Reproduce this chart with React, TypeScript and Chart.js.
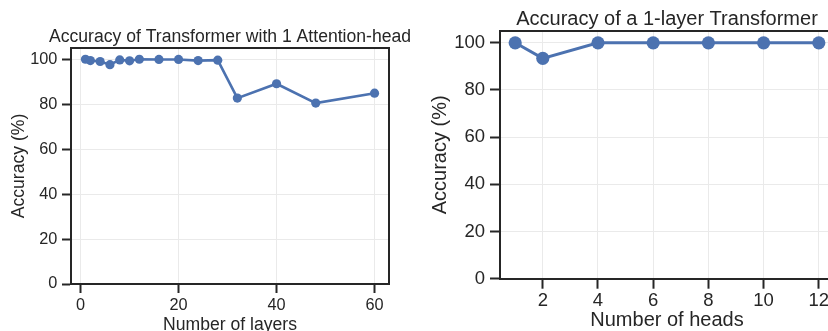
import React, { useEffect, useRef } from "react";
import { Chart, registerables } from "chart.js";

Chart.register(...registerables);

// ---- data ----
const LAYERS = [1, 2, 4, 6, 8, 10, 12, 16, 20, 24, 28, 32, 40, 48, 60];
const LAYER_ACCURACY = [100, 99.4, 99.0, 97.6, 99.7, 99.3, 100, 99.9, 99.9, 99.4, 99.6, 82.7, 89.1, 80.5, 84.9];
const HEADS = [1, 2, 4, 6, 8, 10, 12];
const HEAD_ACCURACY = [100, 93.4, 100, 100, 100, 100, 100];
const LAYER_TICKS = [0, 20, 40, 60];
const HEAD_TICKS = [2, 4, 6, 8, 10, 12];
const Y_TICKS = [0, 20, 40, 60, 80, 100];

const LEFT_TITLE = "Accuracy of Transformer with 1 Attention-head";
const RIGHT_TITLE = "Accuracy of a 1-layer Transformer";
const LEFT_XLABEL = "Number of layers";
const RIGHT_XLABEL = "Number of heads";
const YLABEL = "Accuracy (%)";

const INK = "#262626";
const BLUE = "#4C72B0";
const GRID = "#EAEAEA";
const FAMILY = "'Liberation Sans', Arial, Helvetica, sans-serif";

type P = {
  left: number; w: number; h: number;
  padRight: number; top: number; yw: number; xh: number;
  xs: number[]; ys: number[]; xticks: number[];
  xmin: number; xmax: number;
  r: number; lw: number;
  tickSize: number; labelSize: number; titleSize: number;
  tl: number; xpad: number; ypad: number; ytpad: number; xtpad: number;
  title: string; xlabel: string; titleGap: number;
};

const framePlugin = {
  id: "frame",
  afterDraw(chart: any) {
    const { ctx, chartArea: a } = chart;
    const t = Math.round(a.top);
    const r = Math.round(a.right);
    ctx.save();
    ctx.strokeStyle = INK;
    ctx.lineWidth = 2;
    ctx.lineCap = "square";
    ctx.beginPath();
    ctx.moveTo(Math.round(a.left), t);
    ctx.lineTo(r, t);
    ctx.lineTo(r, Math.round(a.bottom));
    ctx.stroke();
    ctx.restore();
  },
};

const axTitlePlugin = {
  id: "axTitle",
  afterDraw(chart: any, _args: any, opts: any) {
    const { ctx, chartArea: a } = chart;
    ctx.save();
    ctx.fillStyle = INK;
    ctx.font = `${opts.size}px ${FAMILY}`;
    ctx.textAlign = "center";
    ctx.textBaseline = "alphabetic";
    ctx.fillText(opts.text, (a.left + a.right) / 2, a.top - opts.gap);
    ctx.restore();
  },
};

function buildConfig(p: P): any {
  const tickFont = { family: FAMILY, size: p.tickSize, lineHeight: 1 };
  const labelFont = { family: FAMILY, size: p.labelSize, lineHeight: 1 };
  return {
    type: "line",
    data: {
      datasets: [
        {
          data: p.xs.map((x, i) => ({ x, y: p.ys[i] })),
          borderColor: BLUE,
          backgroundColor: BLUE,
          pointBackgroundColor: BLUE,
          pointBorderColor: BLUE,
          pointBorderWidth: 0,
          pointRadius: p.r,
          pointHoverRadius: p.r,
          borderWidth: p.lw,
          tension: 0,
          clip: false,
        },
      ],
    },
    options: {
      responsive: false,
      animation: false,
      devicePixelRatio: 1,
      events: [],
      layout: { padding: { left: 0, right: p.padRight, top: p.top, bottom: 0 } },
      plugins: {
        legend: { display: false },
        tooltip: { enabled: false },
        title: { display: false },
        axTitle: { text: p.title, size: p.titleSize, gap: p.titleGap },
      },
      scales: {
        x: {
          type: "linear",
          min: p.xmin,
          max: p.xmax,
          afterBuildTicks: (s: any) => {
            s.ticks = p.xticks.map((v) => ({ value: v }));
          },
          afterFit: (s: any) => {
            s.height = p.xh;
          },
          grid: {
            color: GRID,
            lineWidth: 1,
            tickColor: INK,
            tickWidth: 2,
            tickLength: p.tl,
            drawTicks: true,
          },
          border: { color: INK, width: 2 },
          ticks: {
            font: tickFont,
            color: INK,
            padding: p.xpad,
            maxRotation: 0,
            minRotation: 0,
            autoSkip: false,
          },
          title: {
            display: true,
            text: p.xlabel,
            font: labelFont,
            color: INK,
            padding: { top: 0, bottom: p.xtpad },
          },
        },
        y: {
          type: "linear",
          min: 0,
          max: 105,
          afterBuildTicks: (s: any) => {
            s.ticks = Y_TICKS.map((v) => ({ value: v }));
          },
          afterFit: (s: any) => {
            s.width = p.yw;
          },
          grid: {
            color: GRID,
            lineWidth: 1,
            tickColor: INK,
            tickWidth: 2,
            tickLength: p.tl,
            drawTicks: true,
          },
          border: { color: INK, width: 2 },
          ticks: {
            font: tickFont,
            color: INK,
            padding: p.ypad,
            autoSkip: false,
          },
          title: {
            display: true,
            text: YLABEL,
            font: labelFont,
            color: INK,
            padding: { top: p.ytpad, bottom: 0 },
          },
        },
      },
    },
    plugins: [framePlugin, axTitlePlugin],
  };
}

const LEFT: P = {
  left: 0, w: 414, h: 345,
  padRight: 25, top: 48, yw: 71, xh: 61,
  xs: LAYERS, ys: LAYER_ACCURACY, xticks: LAYER_TICKS,
  xmin: -1.95, xmax: 62.95,
  r: 4.6, lw: 2.6,
  tickSize: 16.3, labelSize: 17.6, titleSize: 17.6,
  tl: 9, xpad: 4, ypad: 4.6, ytpad: 10.75, xtpad: 10.65,
  title: LEFT_TITLE, xlabel: LEFT_XLABEL, titleGap: 5.8,
};

const RIGHT: P = {
  left: 414, w: 430, h: 345,
  padRight: 10, top: 31, yw: 86, xh: 66.3,
  xs: HEADS, ys: HEAD_ACCURACY, xticks: HEAD_TICKS,
  xmin: 0.45, xmax: 12.55,
  r: 6.6, lw: 3,
  tickSize: 18.5, labelSize: 20, titleSize: 20,
  tl: 10, xpad: 3.2, ypad: 5, ytpad: 16.3, xtpad: 14.2,
  title: RIGHT_TITLE, xlabel: RIGHT_XLABEL, titleGap: 6.3,
};

function ChartCanvas({ p }: { p: P }) {
  const ref = useRef<HTMLCanvasElement>(null);
  useEffect(() => {
    const chart = new Chart(ref.current as HTMLCanvasElement, buildConfig(p));
    return () => chart.destroy();
  }, [p]);
  return (
    <canvas
      ref={ref}
      width={p.w}
      height={p.h}
      style={{ position: "absolute", left: p.left, top: 0, width: p.w, height: p.h, display: "block" }}
    />
  );
}

export default function App() {
  return (
    <div
      style={{
        position: "fixed",
        left: 0,
        top: 0,
        width: 828,
        height: 331,
        overflow: "hidden",
        background: "#ffffff",
      }}
    >
      <ChartCanvas p={LEFT} />
      <ChartCanvas p={RIGHT} />
    </div>
  );
}
